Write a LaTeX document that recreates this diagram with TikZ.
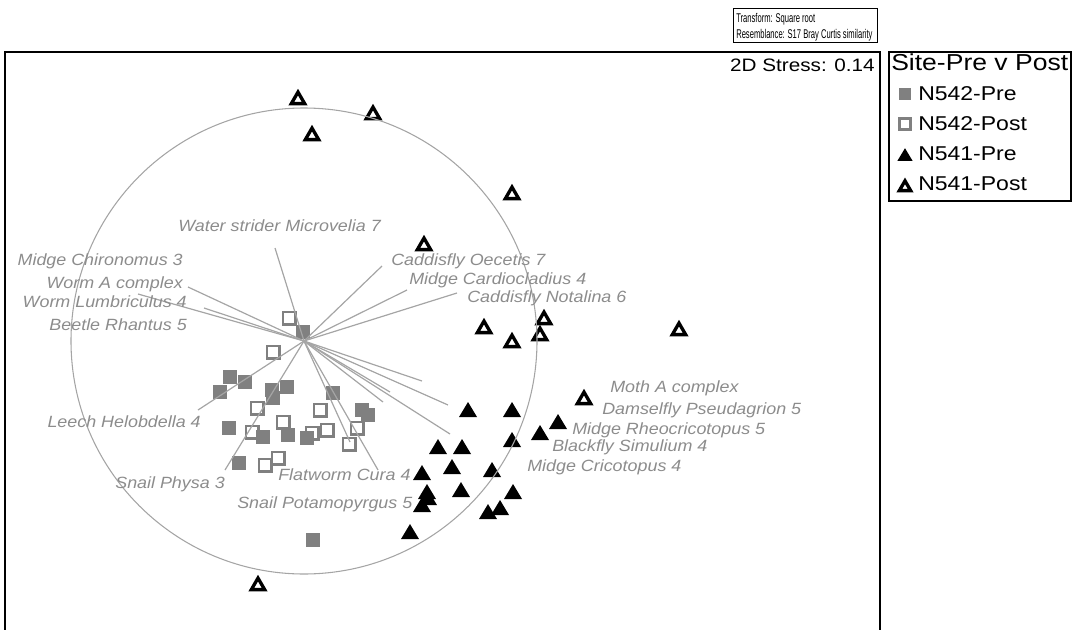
\documentclass[tikz,border=0pt]{standalone}
\usepackage{fontspec}
\setmainfont{Liberation Sans}
\newfontfamily\labfont{Liberation Sans}[FakeStretch=1.1]
\newfontfamily\legfont{Liberation Sans}[FakeStretch=1.15]
\newfontfamily\boxfont{Liberation Sans}[FakeStretch=0.6]
\usepackage{tikz}
\definecolor{sqgray}{RGB}{128,128,128}
\definecolor{labgray}{RGB}{140,140,140}
\definecolor{vecgray}{RGB}{165,165,165}
\tikzset{
         spp/.style={font=\labfont\itshape\fontsize{12.2}{14}\selectfont,text=labgray,inner sep=0pt},
         legtxt/.style={font=\legfont\fontsize{15}{17}\selectfont,inner sep=0pt,anchor=base west},
         boxtxt/.style={font=\boxfont\fontsize{9.5}{11}\selectfont,inner sep=0pt,anchor=base west},
         vec/.style={draw=vecgray,line width=0.9pt},
         fsq/.pic={\fill[sqgray](-7,-7)rectangle(7,7);},
         osq/.pic={\draw[sqgray,line width=1.95pt](-6.2,-6.2)rectangle(6.2,6.2);},
         ftri/.pic={\fill(-9,7)--(9,7)--(0,-8)--cycle;},
         otri/.pic={\draw[line width=2.5pt](-6.65,6.6)--(6.65,6.6)--(0,-4.9)--cycle;}
        }

\begin{document}
\begin{tikzpicture}[x=0.75pt,y=-0.75pt]
\useasboundingbox(0,0)rectangle(1072,629);
%frames
\draw[line width=1.1pt](5,660)--(5,52)--(880,52)--(880,660);
\draw[line width=1.1pt](889,52)rectangle(1071,201);
\draw[line width=0.6pt](733,8)rectangle(877,42);
\node[boxtxt](tform)at(736,22.5){Transform: Square root};
\node[boxtxt](resem)at(736,38){Resemblance: S17 Bray Curtis similarity};
\node[font=\legfont\fontsize{13.5}{16}\selectfont,inner sep=0pt,anchor=base east](stress)at(875,71){2D Stress: 0.14};
%legend
\node[font=\legfont\fontsize{17.3}{20}\selectfont,inner sep=0pt,anchor=base west](ltitle)at(891,70){Site-Pre v Post};
\pic[scale=0.85]at(905,94){fsq};
\pic[scale=0.85]at(905,124){osq};
\pic[scale=0.85]at(905,155){ftri};
\pic[scale=0.85]at(905,185){otri};
\node[legtxt](lpre2)at(918,100){N542-Pre};
\node[legtxt](lpost2)at(918,130.7){N542-Post};
\node[legtxt](lpre1)at(918,160){N541-Pre};
\node[legtxt](lpost1)at(918,190){N541-Post};
%samples
\foreach \x/\y in {230/377,245/382,220/392,272/390,287/387,273/398,333/393,362/410,368/415,229/428,263/437,288/435,307/438,239/463,303/332,313/540}
  \pic at(\x,\y){fsq};
\foreach \x/\y in {289/318,273/352,257/408,320/410,283/422,252/432,312/433,327/430,357/428,349/444,265/465,278/458}
  \pic at(\x,\y){osq};
\foreach \x/\y in {468/410,512/410,558/422,540/433,512/440,438/447,462/447,452/467,492/470,422/473,427/492,428/498,422/505,461/490,513/492,500/508,488/512,410/532}
  \pic at(\x,\y){ftri};
\foreach \x/\y in {298/97,373/112,312/133,512/192,424/243,484/326,544/317,540/333,512/340,679/328,584/397,258/583}
  \pic at(\x,\y){otri};
%correlation circle and vectors
\coordinate(O)at(304,341);
\draw[vecgray,line width=0.8pt](O)circle[radius=233];
\foreach \e/\x/\y in {Micro/275/248,Chiro/138/294,WormA/188/287,Lumb/204/308,Oece/382/266,Card/407/290,Nota/457/293,Moth/422/381,Dams/448/405,Rheo/390/392,Simu/383/402,Cric/450/434,Leech/198/410,Physa/225/470,Cura/378/470,Pota/350/442}
  {\coordinate(e\e)at(\x,\y);
   \draw[vec](O)--(e\e);}
%labels
\node[spp,anchor=base west](lMicro)at(178,231){Water strider Microvelia 7};
\node[spp,anchor=base east](lChiro)at(183,265){Midge Chironomus 3};
\node[spp,anchor=base east](lWormA)at(183,288){Worm A complex};
\node[spp,anchor=base east](lLumb)at(187,307){Worm Lumbriculus 4};
\node[spp,anchor=base east](lBeetle)at(187,330){Beetle Rhantus 5};
\node[spp,anchor=base west](lOece)at(391,265){Caddisfly Oecetis 7};
\node[spp,anchor=base west](lCard)at(409,284){Midge Cardiocladius 4};
\node[spp,anchor=base west](lNota)at(467,302){Caddisfly Notalina 6};
\node[spp,anchor=base west](lMoth)at(610,392){Moth A complex};
\node[spp,anchor=base west](lDams)at(602,414){Damselfly Pseudagrion 5};
\node[spp,anchor=base west](lRheo)at(572,434){Midge Rheocricotopus 5};
\node[spp,anchor=base west](lSimu)at(552,451){Blackfly Simulium 4};
\node[spp,anchor=base west](lCric)at(527,471){Midge Cricotopus 4};
\node[spp,anchor=base east](lLeech)at(201,427){Leech Helobdella 4};
\node[spp,anchor=base east](lPhysa)at(225,488){Snail Physa 3};
\node[spp,anchor=base west](lCura)at(278,480){Flatworm Cura 4};
\node[spp,anchor=base west](lPota)at(237,508){Snail Potamopyrgus 5};
\end{tikzpicture}
\end{document}
